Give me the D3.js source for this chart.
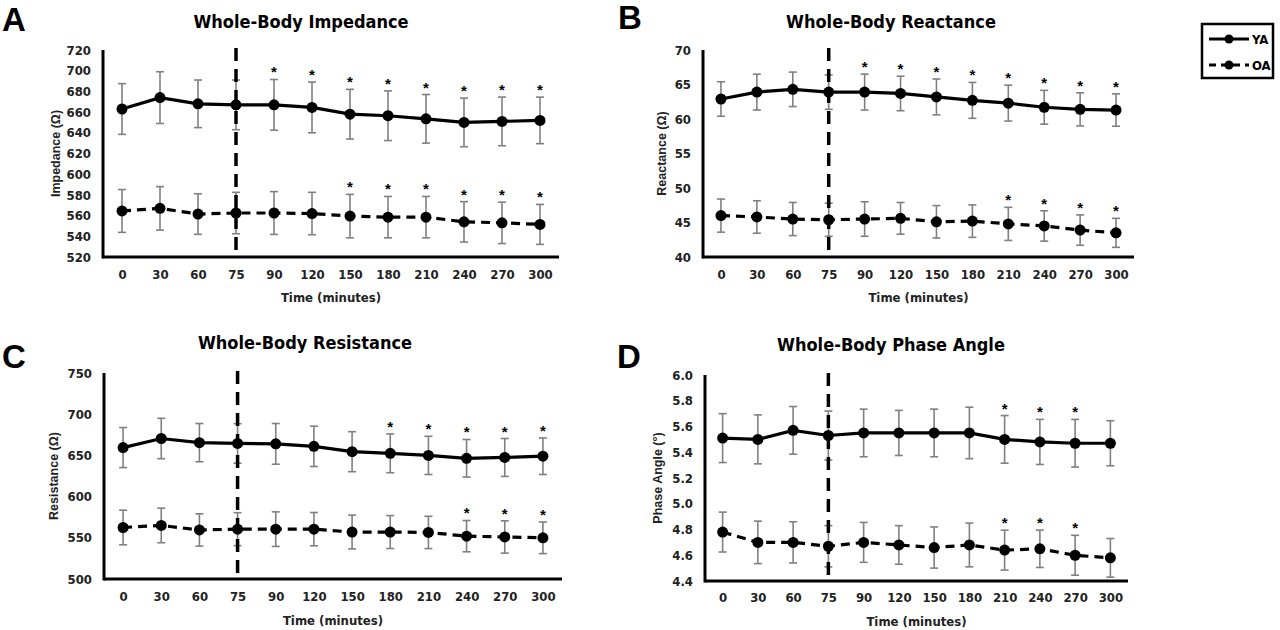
<!DOCTYPE html>
<html>
<head>
<meta charset="utf-8">
<script src="https://cdn.jsdelivr.net/npm/d3@7"></script>
<style>
  html, body { margin: 0; padding: 0; background: #fff; }
  svg { display: block; }
</style>
</head>
<body>
<div id="chart"></div>
<script>
// x categories (minutes)
const times = ["0", "30", "60", "75", "90", "120", "150", "180", "210", "240", "270", "300"];
const markerTime = "75";

// A - impedance
const impYA   = [663, 674, 668, 667, 667, 664.5, 658, 656.5, 653.5, 650, 651, 652];
const impYAsd = [24.5, 25, 23, 24, 24.5, 24.5, 24, 24, 23.5, 23.5, 23.5, 22.5];
const impOA   = [564.5, 567, 561.5, 562.5, 562.5, 562, 559.5, 558.5, 558.5, 554, 553, 551.5];
const impOAsd = [20.7, 21, 19.6, 20, 20.7, 20.5, 21, 20, 20, 19.5, 20, 19.3];
const impYAstars = ["90", "120", "150", "180", "210", "240", "270", "300"];
const impOAstars = ["150", "180", "210", "240", "270", "300"];
const impTicks = [520, 540, 560, 580, 600, 620, 640, 660, 680, 700, 720];

// B - reactance
const reaYA   = [62.9, 63.9, 64.3, 63.9, 63.9, 63.7, 63.2, 62.7, 62.3, 61.7, 61.4, 61.3];
const reaYAsd = [2.5, 2.6, 2.5, 2.5, 2.6, 2.5, 2.6, 2.6, 2.6, 2.45, 2.4, 2.35];
const reaOA   = [46.0, 45.8, 45.5, 45.4, 45.5, 45.6, 45.1, 45.2, 44.8, 44.5, 43.9, 43.5];
const reaOAsd = [2.4, 2.35, 2.4, 2.4, 2.5, 2.3, 2.35, 2.35, 2.4, 2.2, 2.2, 2.1];
const reaYAstars = ["90", "120", "150", "180", "210", "240", "270", "300"];
const reaOAstars = ["210", "240", "270", "300"];
const reaTicks = [40, 45, 50, 55, 60, 65, 70];

// C - resistance
const resYA   = [659.5, 670.5, 665.5, 664.5, 664, 661, 654.5, 652.5, 650, 646.5, 647.5, 649];
const resYAsd = [24.3, 24.5, 23.2, 24, 24.7, 24.5, 24.3, 23.5, 23.2, 22.8, 23, 22.2];
const resOA   = [562.5, 565, 559.5, 560.5, 560.5, 560.5, 557, 557, 556.5, 552, 551, 550];
const resOAsd = [21, 21, 19.6, 20, 21, 20.2, 20.5, 20, 19.6, 19, 19.6, 19.2];
const resYAstars = ["180", "210", "240", "270", "300"];
const resOAstars = ["240", "270", "300"];
const resTicks = [500, 550, 600, 650, 700, 750];

// D - phase angle
const phaYA   = [5.51, 5.50, 5.57, 5.53, 5.55, 5.55, 5.55, 5.55, 5.50, 5.48, 5.47, 5.47];
const phaYAsd = [0.19, 0.19, 0.185, 0.19, 0.185, 0.175, 0.185, 0.2, 0.185, 0.175, 0.185, 0.175];
const phaOA   = [4.78, 4.70, 4.70, 4.67, 4.70, 4.68, 4.66, 4.68, 4.64, 4.65, 4.60, 4.58];
const phaOAsd = [0.155, 0.165, 0.16, 0.16, 0.155, 0.15, 0.16, 0.17, 0.155, 0.145, 0.155, 0.15];
const phaYAstars = ["210", "240", "270"];
const phaOAstars = ["210", "240", "270"];
const phaTicks = [4.4, 4.6, 4.8, 5.0, 5.2, 5.4, 5.6, 5.8, 6.0];

const groups = ["YA", "OA"];

const NARROW = "'Liberation Sans Narrow', 'Arial Narrow', 'DejaVu Sans Condensed', 'Roboto Condensed', sans-serif";
const WIDE = "'Liberation Sans', Arial, sans-serif";

const W = 1280, H = 630;
const svg = d3.select("#chart").append("svg")
  .attr("width", W).attr("height", H)
  .attr("viewBox", `0 0 ${W} ${H}`);

const panels = [
  { letter: "A", title: "Whole-Body Impedance", ylab: "Impedance (Ω)",
    ya: impYA, yasd: impYAsd, oa: impOA, oasd: impOAsd, yaStars: impYAstars, oaStars: impOAstars,
    ticks: impTicks, fmt: d3.format("d"),
    box: { x0: 103, x1: 559, top: 50, bottom: 257 }, letterPos: [2, 31], titlePos: [301, 28], ylabX: 60, xlabY: 302, tickY: 280 },
  { letter: "B", title: "Whole-Body Reactance", ylab: "Reactance (Ω)",
    ya: reaYA, yasd: reaYAsd, oa: reaOA, oasd: reaOAsd, yaStars: reaYAstars, oaStars: reaOAstars,
    ticks: reaTicks, fmt: d3.format("d"),
    box: { x0: 703, x1: 1134, top: 50, bottom: 257 }, letterPos: [618, 29], titlePos: [891, 28], ylabX: 666, xlabY: 302, tickY: 280 },
  { letter: "C", title: "Whole-Body Resistance", ylab: "Resistance (Ω)",
    ya: resYA, yasd: resYAsd, oa: resOA, oasd: resOAsd, yaStars: resYAstars, oaStars: resOAstars,
    ticks: resTicks, fmt: d3.format("d"),
    box: { x0: 104, x1: 562, top: 373, bottom: 579 }, letterPos: [2, 368], titlePos: [305, 349], ylabX: 58, xlabY: 625, tickY: 602 },
  { letter: "D", title: "Whole-Body Phase Angle", ylab: "Phase Angle (°)",
    ya: phaYA, yasd: phaYAsd, oa: phaOA, oasd: phaOAsd, yaStars: phaYAstars, oaStars: phaOAstars,
    ticks: phaTicks, fmt: d3.format(".1f"),
    box: { x0: 705, x1: 1128, top: 375, bottom: 581 }, letterPos: [617, 368], titlePos: [891, 351], ylabX: 662, xlabY: 626, tickY: 603 }
];

panels.forEach(p => {
  const g = svg.append("g");
  const b = p.box;

  const x = d3.scalePoint().domain(times).range([b.x0, b.x1]).padding(0.5);
  const y = d3.scaleLinear().domain(d3.extent(p.ticks)).range([b.bottom, b.top]);

  // Panel letter + title
  g.append("text")
    .attr("x", p.letterPos[0]).attr("y", p.letterPos[1])
    .style("font-family", WIDE).style("font-weight", "bold").style("font-size", "33px")
    .text(p.letter);
  g.append("text")
    .attr("x", p.titlePos[0]).attr("y", p.titlePos[1])
    .attr("text-anchor", "middle")
    .style("font-family", NARROW).style("font-weight", "bold").style("font-size", "18px")
    .text(p.title);

  // Y axis
  g.append("g").attr("transform", `translate(${b.x0},0)`)
    .call(d3.axisLeft(y).tickValues(p.ticks).tickFormat(p.fmt).tickSize(0).tickPadding(12))
    .call(ax => ax.select(".domain").remove())
    .call(ax => ax.selectAll("text")
      .style("fill", "#222")
      .style("font-family", NARROW)
      .style("font-weight", "bold")
      .style("font-size", "13px"));

  // X axis
  g.append("g").attr("transform", `translate(0,${b.bottom})`)
    .call(d3.axisBottom(x).tickSize(0).tickPadding(p.tickY - b.bottom - 10))
    .call(ax => ax.select(".domain").remove())
    .call(ax => ax.selectAll("text")
      .style("fill", "#222")
      .style("font-family", NARROW)
      .style("font-weight", "bold")
      .style("font-size", "13px"));

  // Axis lines
  g.append("line")
    .attr("x1", b.x0).attr("x2", b.x0)
    .attr("y1", b.top).attr("y2", b.bottom + 1.5)
    .attr("stroke", "#000").attr("stroke-width", 3);
  g.append("line")
    .attr("x1", b.x0).attr("x2", b.x1)
    .attr("y1", b.bottom).attr("y2", b.bottom)
    .attr("stroke", "#000").attr("stroke-width", 3);

  // Axis titles
  g.append("text")
    .attr("x", (b.x0 + b.x1) / 2).attr("y", p.xlabY)
    .attr("text-anchor", "middle")
    .style("font-family", NARROW).style("font-weight", "bold").style("font-size", "13px")
    .style("fill", "#222")
    .text("Time (minutes)");
  g.append("text")
    .attr("transform", `translate(${p.ylabX},${(b.top + b.bottom) / 2}) rotate(-90)`)
    .attr("text-anchor", "middle")
    .style("font-family", WIDE).style("font-weight", "bold").style("font-size", "12.5px")
    .style("fill", "#222")
    .text(p.ylab);

  const series = [
    { name: "YA", vals: p.ya, sd: p.yasd, stars: p.yaStars, dash: null },
    { name: "OA", vals: p.oa, sd: p.oasd, stars: p.oaStars, dash: "9,6" }
  ];

  // Error bars
  series.forEach(s => {
    const eb = g.append("g").attr("stroke", "#808080").attr("stroke-width", 1.6);
    times.forEach((t, i) => {
      const cx = x(t);
      const yt = y(s.vals[i] + s.sd[i]);
      const yb = y(s.vals[i] - s.sd[i]);
      eb.append("line").attr("x1", cx).attr("x2", cx).attr("y1", yt).attr("y2", yb);
      eb.append("line").attr("x1", cx - 4).attr("x2", cx + 4).attr("y1", yt).attr("y2", yt);
      eb.append("line").attr("x1", cx - 4).attr("x2", cx + 4).attr("y1", yb).attr("y2", yb);
    });
  });

  // Vertical dashed marker
  g.append("line")
    .attr("x1", x(markerTime)).attr("x2", x(markerTime))
    .attr("y1", b.top - 2).attr("y2", b.bottom)
    .attr("stroke", "#000").attr("stroke-width", 3.5)
    .attr("stroke-dasharray", "13,8");

  // Lines + markers
  const line = d3.line().x((_, i) => x(times[i])).y(d => y(d));
  series.forEach(s => {
    g.append("path")
      .datum(s.vals)
      .attr("fill", "none")
      .attr("stroke", "#000")
      .attr("stroke-width", 3.2)
      .attr("stroke-dasharray", s.dash)
      .attr("d", line);
    g.selectAll(null).data(s.vals).enter().append("circle")
      .attr("cx", (_, i) => x(times[i]))
      .attr("cy", d => y(d))
      .attr("r", 5.5)
      .attr("fill", "#000");

    // Significance stars
    s.stars.forEach(t => {
      const i = times.indexOf(t);
      g.append("text")
        .attr("x", x(t)).attr("y", y(s.vals[i] + s.sd[i]) - 2)
        .attr("text-anchor", "middle")
        .style("font-family", WIDE).style("font-weight", "bold").style("font-size", "15px")
        .text("*");
    });
  });
});

// Legend
const lg = svg.append("g");
lg.append("rect")
  .attr("x", 1202).attr("y", 24).attr("width", 71).attr("height", 54)
  .attr("fill", "#fff").attr("stroke", "#000").attr("stroke-width", 2.5);
groups.forEach((name, i) => {
  const ly = 39 + i * 26;
  lg.append("line")
    .attr("x1", 1209).attr("x2", 1249).attr("y1", ly).attr("y2", ly)
    .attr("stroke", "#000").attr("stroke-width", 3)
    .attr("stroke-dasharray", i === 1 ? "7,5" : null);
  lg.append("circle").attr("cx", 1229).attr("cy", ly).attr("r", 4.5).attr("fill", "#000");
  lg.append("text")
    .attr("x", 1252).attr("y", ly + 4.5)
    .style("font-family", NARROW).style("font-weight", "bold").style("font-size", "13px")
    .text(name);
});
</script>
</body>
</html>
